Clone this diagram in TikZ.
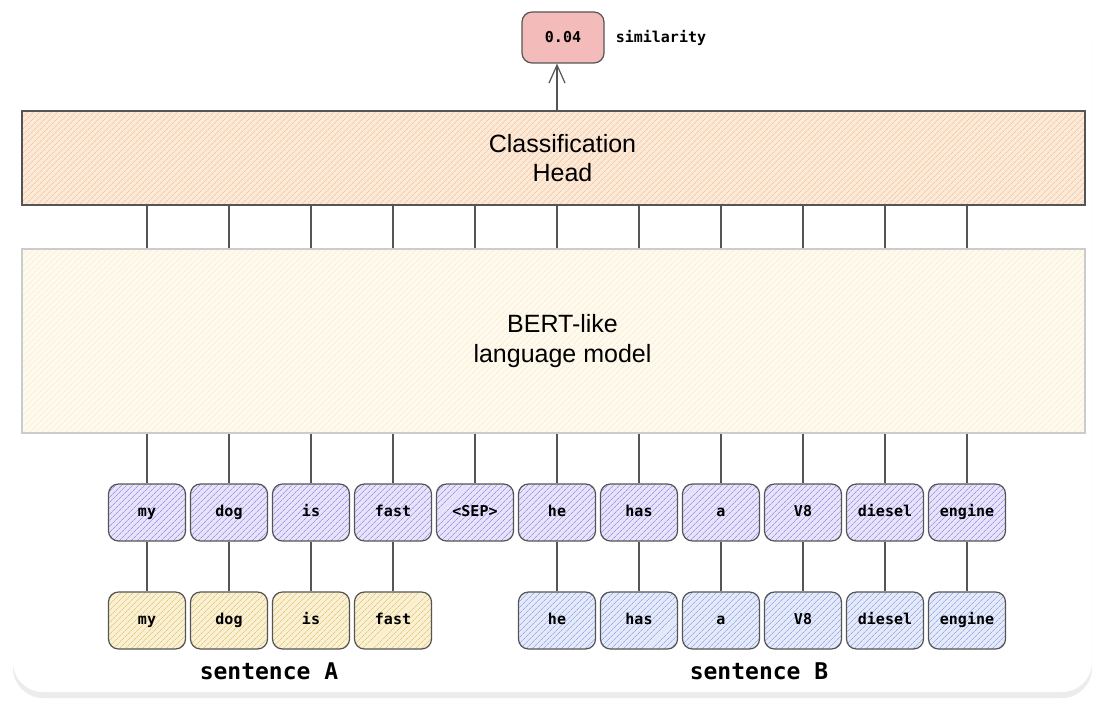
\documentclass[tikz,border=0pt]{standalone}
\usepackage{fontspec}
\setmainfont{Liberation Sans}
\newfontfamily\tokfont{DejaVu Sans Mono}
\usetikzlibrary{patterns.meta, arrows.meta, positioning, shadows}

\definecolor{edge}{HTML}{555555}
\definecolor{headfill}{HTML}{FCE9D8}
\definecolor{headhatch}{HTML}{F3C9A2}
\definecolor{bertfill}{HTML}{FEFAEE}
\definecolor{berthatch}{HTML}{F7EDD2}
\definecolor{tokfill}{HTML}{E6E3FA}
\definecolor{tokhatch}{HTML}{A098E2}
\definecolor{afill}{HTML}{FBF1D2}
\definecolor{ahatch}{HTML}{E2CB88}
\definecolor{bfill}{HTML}{E4EAFA}
\definecolor{bhatch}{HTML}{9CAEE4}
\definecolor{simfill}{HTML}{F4BBBB}

\tikzset{
    hatched/.style 2 args={
        preaction={fill=#1},
        pattern={Lines[angle=45, distance=4pt, line width=0.8pt]},
        pattern color=#2,
    },
    headbox/.style={
        rectangle, draw=edge, hatched={headfill}{headhatch},
        minimum width=1063pt, minimum height=94pt,
        line width=1.2pt,
    },
    bertbox/.style={
        rectangle, draw=gray!40, hatched={bertfill}{berthatch},
        minimum width=1063pt, minimum height=184pt,
        line width=1.2pt,
    },
    boxtext/.style={
        align=center, xshift=9pt,
        font=\fontsize{25}{29.5}\selectfont,
    },
    tok/.style={
        rectangle, draw=edge, hatched={tokfill}{tokhatch},
        minimum width=77pt, minimum height=57pt,
        text height=11pt, text depth=3pt,
        rounded corners=10pt, line width=1.2pt,
        font=\tokfont\bfseries\fontsize{15}{18}\selectfont,
    },
    toka/.style={tok, hatched={afill}{ahatch}},
    tokb/.style={tok, hatched={bfill}{bhatch}},
    simbox/.style={
        rectangle, draw=edge, fill=simfill,
        minimum width=82pt, minimum height=51pt,
        rounded corners=10pt, line width=1.2pt,
        font=\tokfont\bfseries\fontsize{15}{18}\selectfont,
    },
    note/.style={
        inner sep=0pt,
        font=\tokfont\bfseries\fontsize{15}{18}\selectfont,
    },
    caption/.style={
        font=\tokfont\bfseries\fontsize{23}{27}\selectfont,
    },
    link/.style={draw=edge, line width=1.2pt},
    arr/.style={
        -{Straight Barb[length=18pt, width=16pt, line width=1.2pt]},
        draw=edge, line width=1.2pt,
    },
}

\begin{document}
\begin{tikzpicture}[x=1pt, y=-1pt]

    % ── Card ──
    \useasboundingbox (0,0) rectangle (1106,714);
    \fill[white] (0,0) rectangle (1106,714);
    \fill[white, rounded corners=30pt,
          drop shadow={opacity=0.15, shadow xshift=0pt, shadow yshift=-6pt}]
        (13,5) rectangle (1092,692);

    % ── Output ──
    \node[simbox] (sim) at (563, 37.5) {0.04};
    \node[note, right=11pt of sim] (simlabel) {similarity};

    % ── Classification head and model ──
    \node[headbox, label={[boxtext]center:Classification\\Head}]
        (head) at (553.5, 158) {};
    \node[bertbox, label={[boxtext]center:BERT-like\\language model}]
        (bert) at (553.5, 341) {};

    % ── Input tokens (82pt spacing) ──
    \node[tok] (t1)  at (147, 512.5) {my};
    \node[tok] (t2)  at (229, 512.5) {dog};
    \node[tok] (t3)  at (311, 512.5) {is};
    \node[tok] (t4)  at (393, 512.5) {fast};
    \node[tok] (t5)  at (475, 512.5) {<SEP>};
    \node[tok] (t6)  at (557, 512.5) {he};
    \node[tok] (t7)  at (639, 512.5) {has};
    \node[tok] (t8)  at (721, 512.5) {a};
    \node[tok] (t9)  at (803, 512.5) {V8};
    \node[tok] (t10) at (885, 512.5) {diesel};
    \node[tok] (t11) at (967, 512.5) {engine};

    % ── Sentence A ──
    \node[toka] (a1) at (147, 620.5) {my};
    \node[toka] (a2) at (229, 620.5) {dog};
    \node[toka] (a3) at (311, 620.5) {is};
    \node[toka] (a4) at (393, 620.5) {fast};

    % ── Sentence B ──
    \node[tokb] (b1) at (557, 620.5) {he};
    \node[tokb] (b2) at (639, 620.5) {has};
    \node[tokb] (b3) at (721, 620.5) {a};
    \node[tokb] (b4) at (803, 620.5) {V8};
    \node[tokb] (b5) at (885, 620.5) {diesel};
    \node[tokb] (b6) at (967, 620.5) {engine};

    \node[caption] (capA) at (269, 671) {sentence A};
    \node[caption] (capB) at (759, 671) {sentence B};

    % ── Arrow: head -> similarity ──
    \draw[arr] (head.north -| t6) -- (sim.south -| t6);

    % ── Links: model -> head ──
    \draw[link] (bert.north -| t1)  -- (head.south -| t1);
    \draw[link] (bert.north -| t2)  -- (head.south -| t2);
    \draw[link] (bert.north -| t3)  -- (head.south -| t3);
    \draw[link] (bert.north -| t4)  -- (head.south -| t4);
    \draw[link] (bert.north -| t5)  -- (head.south -| t5);
    \draw[link] (bert.north -| t6)  -- (head.south -| t6);
    \draw[link] (bert.north -| t7)  -- (head.south -| t7);
    \draw[link] (bert.north -| t8)  -- (head.south -| t8);
    \draw[link] (bert.north -| t9)  -- (head.south -| t9);
    \draw[link] (bert.north -| t10) -- (head.south -| t10);
    \draw[link] (bert.north -| t11) -- (head.south -| t11);

    % ── Links: tokens -> model ──
    \draw[link] (t1)  -- (bert.south -| t1);
    \draw[link] (t2)  -- (bert.south -| t2);
    \draw[link] (t3)  -- (bert.south -| t3);
    \draw[link] (t4)  -- (bert.south -| t4);
    \draw[link] (t5)  -- (bert.south -| t5);
    \draw[link] (t6)  -- (bert.south -| t6);
    \draw[link] (t7)  -- (bert.south -| t7);
    \draw[link] (t8)  -- (bert.south -| t8);
    \draw[link] (t9)  -- (bert.south -| t9);
    \draw[link] (t10) -- (bert.south -| t10);
    \draw[link] (t11) -- (bert.south -| t11);

    % ── Links: sentences -> tokens ──
    \draw[link] (a1) -- (t1);
    \draw[link] (a2) -- (t2);
    \draw[link] (a3) -- (t3);
    \draw[link] (a4) -- (t4);
    \draw[link] (b1) -- (t6);
    \draw[link] (b2) -- (t7);
    \draw[link] (b3) -- (t8);
    \draw[link] (b4) -- (t9);
    \draw[link] (b5) -- (t10);
    \draw[link] (b6) -- (t11);

\end{tikzpicture}
\end{document}
